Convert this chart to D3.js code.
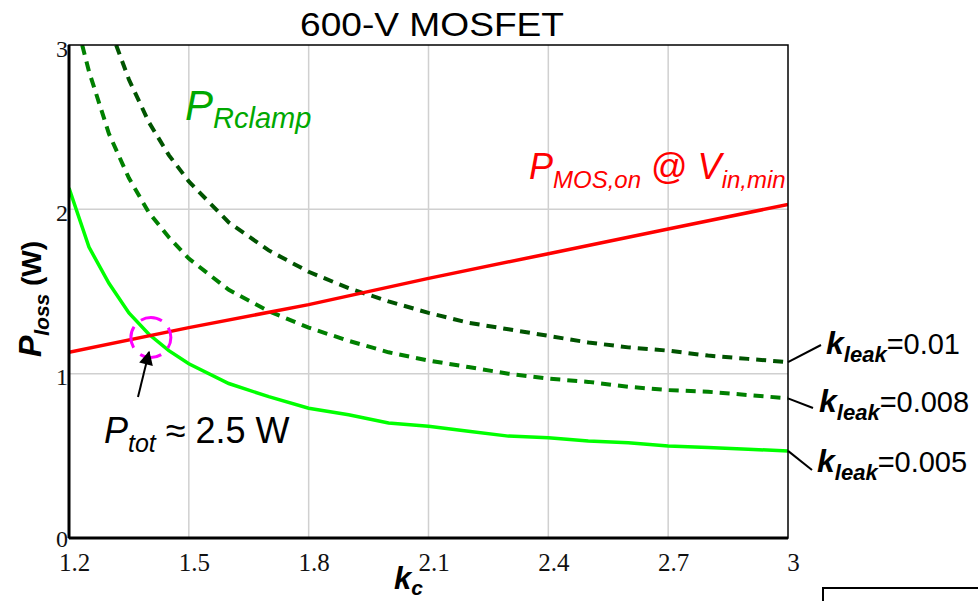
<meta charset="utf-8">
<script src="https://d3js.org/d3.v7.js"></script>
<style>
body { margin: 0; background: white; }
svg { font-family: 'Liberation Sans', Arial, sans-serif; }
</style>
<div id="chart"></div>
<script>
// data
var xTicks = [1.2, 1.5, 1.8, 2.1, 2.4, 2.7, 3];
var yTicks = [0, 1, 2, 3];

var kcRed = [1.2, 1.5, 1.8, 2.1, 2.4, 2.7, 3.0];
var pMosOn = [1.13, 1.28, 1.42, 1.58, 1.73, 1.88, 2.03];

var kc005 = [1.2, 1.25, 1.3, 1.35, 1.4, 1.45, 1.5, 1.6, 1.7, 1.8, 1.9, 2.0, 2.1, 2.2, 2.3, 2.4, 2.5, 2.6, 2.7, 2.8, 2.9, 3.0];
var pClamp005 = [2.13, 1.77, 1.55, 1.37, 1.24, 1.14, 1.06, 0.94, 0.86, 0.79, 0.75, 0.70, 0.68, 0.65, 0.62, 0.61, 0.59, 0.58, 0.56, 0.55, 0.54, 0.53];

var kc008 = [1.233, 1.25, 1.3, 1.35, 1.4, 1.45, 1.5, 1.6, 1.7, 1.8, 1.9, 2.0, 2.1, 2.2, 2.3, 2.4, 2.5, 2.6, 2.7, 2.8, 2.9, 3.0];
var pClamp008 = [3.0, 2.84, 2.46, 2.19, 1.98, 1.83, 1.70, 1.51, 1.38, 1.28, 1.20, 1.13, 1.08, 1.04, 1.00, 0.97, 0.95, 0.92, 0.90, 0.89, 0.87, 0.85];

var kc01 = [1.318, 1.35, 1.4, 1.45, 1.5, 1.6, 1.7, 1.8, 1.9, 2.0, 2.1, 2.2, 2.3, 2.4, 2.5, 2.6, 2.7, 2.8, 2.9, 3.0];
var pClamp01 = [3.0, 2.79, 2.53, 2.33, 2.17, 1.92, 1.75, 1.62, 1.52, 1.44, 1.37, 1.31, 1.27, 1.23, 1.19, 1.16, 1.14, 1.11, 1.09, 1.07];

var kLabels = ["0.01", "0.008", "0.005"];

var margin = {top: 45, right: 190, bottom: 63, left: 69},
    W = 978, H = 601,
    width = W - margin.left - margin.right,
    height = H - margin.top - margin.bottom;

var svg = d3.select("#chart").append("svg")
    .attr("width", W).attr("height", H);
var defs = svg.append("defs");

var g = svg.append("g")
    .attr("transform", "translate(" + margin.left + "," + margin.top + ")");

var x = d3.scaleLinear().domain([1.2, 3]).range([0, width]);
var y = d3.scaleLinear().domain([0, 3]).range([height, 0]);

// grid
g.append("g").selectAll("line").data(xTicks.slice(1, -1)).enter().append("line")
    .attr("x1", d => x(d)).attr("x2", d => x(d))
    .attr("y1", 0).attr("y2", height)
    .attr("stroke", "#d0d0d0").attr("stroke-width", 1.5);
g.append("g").selectAll("line").data(yTicks.slice(1, -1)).enter().append("line")
    .attr("y1", d => y(d)).attr("y2", d => y(d))
    .attr("x1", 0).attr("x2", width)
    .attr("stroke", "#d0d0d0").attr("stroke-width", 1.5);

// axes (tick labels only, frame drawn separately)
var serif = "'Liberation Serif', 'Times New Roman', serif";
var xAxis = g.append("g")
    .attr("transform", "translate(0," + height + ")")
    .call(d3.axisBottom(x).tickValues(xTicks).tickSize(0)
        .tickFormat(d => d === 3 ? "3" : d3.format(".1f")(d)));
xAxis.attr("font-size", 25).attr("font-family", serif);
xAxis.select(".domain").remove();
xAxis.selectAll("text").attr("fill", "#111")
    .attr("dx", 5).attr("y", 33).attr("dy", 0);

var yAxis = g.append("g")
    .call(d3.axisLeft(y).tickValues(yTicks).tickSize(0).tickFormat(d3.format("d")));
yAxis.attr("font-size", 24).attr("font-family", serif);
yAxis.select(".domain").remove();
yAxis.selectAll("text").attr("fill", "#111")
    .attr("x", -1).attr("dy", 0).attr("y", d => d === 0 ? 8 : 11);

// clip
defs.append("clipPath").attr("id", "plot")
    .append("rect").attr("width", width).attr("height", height);

var line = d3.line().x(d => x(d[0])).y(d => y(d[1]));
var curves = g.append("g").attr("clip-path", "url(#plot)");

curves.append("path").datum(d3.zip(kc01, pClamp01))
    .attr("d", line).attr("fill", "none")
    .attr("stroke", "#005400").attr("stroke-width", 4)
    .attr("stroke-dasharray", "10,7");
curves.append("path").datum(d3.zip(kc008, pClamp008))
    .attr("d", line).attr("fill", "none")
    .attr("stroke", "#008000").attr("stroke-width", 4)
    .attr("stroke-dasharray", "10,7");
curves.append("path").datum(d3.zip(kc005, pClamp005))
    .attr("d", line).attr("fill", "none")
    .attr("stroke", "#00ff00").attr("stroke-width", 3.5);
curves.append("path").datum(d3.zip(kcRed, pMosOn))
    .attr("d", line).attr("fill", "none")
    .attr("stroke", "#ff0000").attr("stroke-width", 3.5);

// frame
g.append("rect").attr("width", width).attr("height", height)
    .attr("fill", "none").attr("stroke", "#000").attr("stroke-width", 1.5);
g.append("line").attr("x1", 0).attr("x2", 0).attr("y1", 0).attr("y2", height)
    .attr("stroke", "#000").attr("stroke-width", 3);
g.append("line").attr("x1", 0).attr("x2", width).attr("y1", height).attr("y2", height)
    .attr("stroke", "#000").attr("stroke-width", 3);

// title
svg.append("text").attr("x", 300).attr("y", 36)
    .attr("font-size", 34).attr("textLength", 264).attr("lengthAdjust", "spacingAndGlyphs")
    .text("600-V MOSFET");

// axis titles
var yl = svg.append("text")
    .attr("transform", "translate(41,299) rotate(-90)")
    .attr("text-anchor", "middle").attr("font-size", 28).attr("font-weight", "bold");
yl.append("tspan").attr("font-style", "italic").attr("font-size", 32).text("P");
yl.append("tspan").attr("font-style", "italic").attr("font-size", 21).attr("dy", 8).text("loss");
yl.append("tspan").attr("dy", -8).text(" (W)");

var xl = svg.append("text").attr("x", 394).attr("y", 589)
    .attr("font-size", 31).attr("font-weight", "bold").attr("font-style", "italic");
xl.append("tspan").text("k");
xl.append("tspan").attr("font-size", 21).attr("dy", 6).text("c");

// curve labels
var pr = svg.append("text").attr("x", 185).attr("y", 120)
    .attr("fill", "#00a800").attr("font-style", "italic").attr("font-size", 42);
pr.append("tspan").text("P");
pr.append("tspan").attr("font-size", 29).attr("dy", 8).text("Rclamp");

var pm = svg.append("text").attr("x", 529).attr("y", 179)
    .attr("fill", "#ff0000").attr("font-size", 36);
pm.append("tspan").attr("font-style", "italic").text("P");
pm.append("tspan").attr("font-style", "italic").attr("font-size", 24).attr("dy", 9).text("MOS,on");
pm.append("tspan").attr("dy", -9).text(" @ ");
pm.append("tspan").attr("font-style", "italic").text("V");
pm.append("tspan").attr("font-style", "italic").attr("font-size", 24).attr("dy", 9).text("in,min");

// operating point marker
var opK = 1.405, opP = 1.22;
g.append("circle").attr("cx", x(opK)).attr("cy", y(opP)).attr("r", 20)
    .attr("fill", "none").attr("stroke", "#ff00ff").attr("stroke-width", 3)
    .attr("stroke-dasharray", "22,9.4").attr("stroke-dashoffset", 11);

defs.append("marker").attr("id", "arrow")
    .attr("viewBox", "0 0 10 10").attr("refX", 9).attr("refY", 5)
    .attr("markerWidth", 16).attr("markerHeight", 14).attr("orient", "auto")
    .attr("markerUnits", "userSpaceOnUse")
    .append("path").attr("d", "M0,0 L10,5 L0,10 z").attr("fill", "#000");
g.append("line")
    .attr("x1", 138 - margin.left).attr("y1", 397 - margin.top)
    .attr("x2", 149 - margin.left).attr("y2", 352 - margin.top)
    .attr("stroke", "#000").attr("stroke-width", 2).attr("marker-end", "url(#arrow)");

var pt = svg.append("text").attr("x", 104).attr("y", 443).attr("font-size", 36);
pt.append("tspan").attr("font-style", "italic").text("P");
pt.append("tspan").attr("font-style", "italic").attr("font-size", 25).attr("dy", 9).text("tot");
pt.append("tspan").attr("dy", -9).text(" ≈ 2.5 W");

// k_leak labels
var kEnds = [pClamp01[pClamp01.length - 1], pClamp008[pClamp008.length - 1], pClamp005[pClamp005.length - 1]];
var labelPos = [[826, 354, 821, 345], [819, 412, 813, 408], [817, 472, 812, 470]];

kLabels.forEach(function(k, i) {
    var p = labelPos[i];
    svg.append("line")
        .attr("x1", margin.left + x(3)).attr("y1", margin.top + y(kEnds[i]))
        .attr("x2", p[2]).attr("y2", p[3])
        .attr("stroke", "#000").attr("stroke-width", 2);
    var t = svg.append("text").attr("x", p[0]).attr("y", p[1]).attr("font-size", 29);
    t.append("tspan").attr("font-weight", "bold").attr("font-style", "italic").attr("font-size", 32).text("k");
    t.append("tspan").attr("font-weight", "bold").attr("font-style", "italic").attr("font-size", 22).attr("dy", 8).text("leak");
    t.append("tspan").attr("dy", -8).text("=" + k);
});

// partial box at bottom right
svg.append("path").attr("d", "M823,601 L823,588 L978,588")
    .attr("fill", "none").attr("stroke", "#000").attr("stroke-width", 2);
</script>
